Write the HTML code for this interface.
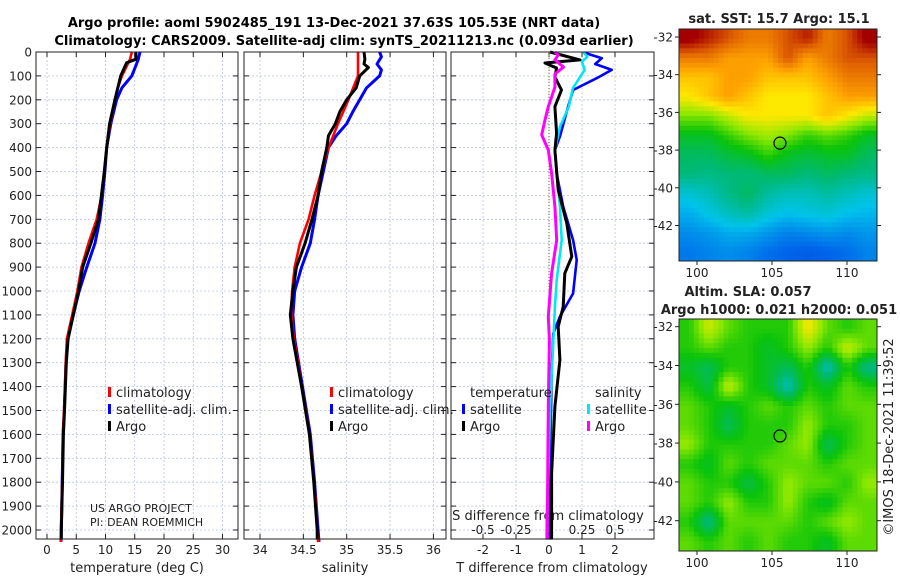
<!DOCTYPE html>
<html><head><meta charset="utf-8"><style>
body{margin:0;background:#fff;}
svg{display:block;font-family:"DejaVu Sans","Liberation Sans",sans-serif;}
</style></head><body>
<svg id="s" width="900" height="580" viewBox="0 0 900 580" xmlns="http://www.w3.org/2000/svg">
<text x="334" y="27" text-anchor="middle" font-size="13" font-weight="bold">Argo profile: aoml 5902485_191 13-Dec-2021 37.63S 105.53E (NRT data)</text>
<text x="344" y="45" text-anchor="middle" font-size="13" font-weight="bold">Climatology: CARS2009. Satellite-adj clim: synTS_20211213.nc (0.093d earlier)</text>
</svg>
<script>
// ---- profile data ----
const tDepth=[0,30,50,100,150,200,300,400,500,600,700,800,900,1000,1100,1200,1300,1400,1500,1600,1800,2000,2050];
const tClim=[14.5,14.2,13.8,12.8,12.1,11.6,10.8,10.2,9.8,9.35,8.5,7.1,5.9,5.2,4.3,3.4,3.2,3.1,2.9,2.7,2.6,2.4,2.4];
const tSat=[15.9,15.6,15.3,14.5,12.8,11.9,10.9,10.2,9.9,9.5,9.05,8.2,6.8,5.5,4.5,3.5,3.25,3.1,2.95,2.75,2.6,2.45,2.4];
const tArgoDepth=[0,30,45,100,200,300,400,500,700,800,900,1000,1100,1200,1300,1400,1500,1600,1800,2000,2040];
const tArgo=[15.2,15.2,13.6,12.6,11.6,10.7,10.2,9.8,8.8,7.5,6.1,5.4,4.5,3.6,3.3,3.15,3.0,2.8,2.65,2.45,2.45];

const sDepth=[0,100,200,300,400,500,600,700,800,900,1000,1100,1200,1300,1400,1500,1600,1700,1800,1900,2000,2050];
const sClim=[35.13,35.13,35.02,34.90,34.79,34.71,34.63,34.56,34.46,34.40,34.37,34.36,34.39,34.44,34.48,34.53,34.57,34.60,34.62,34.65,34.66,34.67];
const sSatDepth=[0,20,50,75,100,150,200,250,300,350,400,500,600,700,800,900,1000,1100,1200,1400,1600,1800,2000,2050];
const sSat=[35.38,35.40,35.35,35.40,35.38,35.23,35.15,35.07,35.0,34.88,34.79,34.73,34.67,34.63,34.58,34.48,34.40,34.38,34.40,34.49,34.58,34.63,34.67,34.68];
const sArgoDepth=[0,30,50,65,100,150,200,250,300,350,400,500,600,700,800,900,1000,1100,1200,1400,1600,1800,2000,2040];
const sArgo=[35.20,35.21,35.20,35.25,35.15,35.11,35.0,34.92,34.87,34.79,34.77,34.71,34.67,34.60,34.52,34.42,34.38,34.35,34.38,34.48,34.57,34.62,34.66,34.66];

const dTSatDepth=[4,26,50,75,109,159,229,354,410,507,647,787,870,1010,1107,1177,1345,1625,1970,2040];
const dTSat=[1.1,1.6,1.4,1.9,1.45,0.73,0.58,0.33,0.18,0.23,0.43,0.73,0.84,0.73,0.33,0.13,0.08,0.05,0.03,0.03];
const dTArgoDepth=[0,33,46,67,105,159,229,340,410,577,717,856,926,1066,1149,1289,1484,1763,1970,2040];
const dTArgo=[0.03,0.94,-0.12,0.23,0.18,0.38,0.18,0.23,0.18,0.28,0.54,0.69,0.48,0.43,0.28,0.33,0.18,0.08,0.08,0.08];
const dSSatDepth=[0,20,40,75,105,152,229,312,410,507,647,787,954,1066,1205,1484,1763,1970,2040];
const dSSat=[0.26,0.29,0.25,0.27,0.235,0.18,0.15,0.083,0.045,0.058,0.083,0.096,0.058,0.045,0.033,0.008,-0.005,-0.018,-0.02];
const dSArgoDepth=[0,12,33,63,92,147,229,284,347,410,507,647,787,926,1107,1205,1484,1970,2040];
const dSArgo=[0.045,0.07,0.045,0.11,0.045,0.045,-0.005,-0.03,-0.055,-0.005,0.02,0.045,0.058,0.02,-0.005,0.003,-0.005,-0.013,-0.013];

const depthTicks=[0,100,200,300,400,500,600,700,800,900,1000,1100,1200,1300,1400,1500,1600,1700,1800,1900,2000];
const tTicks=[0,5,10,15,20,25,30];
const sTicks=[34,34.5,35,35.5,36];
const sTickLabels=["34","34.5","35","35.5","36"];
const dTTicks=[-2,-1,0,1,2];
const dSTicks=[-0.5,-0.25,0,0.25,0.5];
const dSTickLabels=["-0.5","-0.25","0","0.25","0.5"];

// ---- map data ----
const sstLatTicks=[-32,-34,-36,-38,-40,-42];
const lonTicks=[100,105,110];
const sstGrid=[
[19,18.5,18,17.5,17.5,18,18.5,17.5,18,19],
[17.5,17.5,17,17,17,18,17,17.5,18,18],
[16.5,16.5,17,17,16.5,16.5,16.5,17,17.5,17.5],
[16,16.5,17,16.5,16,16,16,16.5,17,17],
[15,15,15.5,16,16,16,16,16.5,16,15.5],
[14,14,14.5,15,15.3,15,14.5,14.8,14.5,14],
[13.5,13.5,13.8,14,14.5,14,13.8,14,14,13.5],
[13.3,13.2,13.3,13.3,13.5,13.5,13.3,13.5,13.3,13.2],
[12.6,12.8,13.2,13.5,13,12.8,12.8,13,12.8,12.6],
[12.2,12.5,12.8,13,12.6,12.4,12.5,12.6,12.4,12.3],
[11.9,12,12.2,12.2,12,11.8,11.9,12,11.9,12],
[11.7,11.8,11.9,11.8,11.6,11.5,11.4,11.5,11.6,11.8]];
const slaGrid=[
[0,0.15,0.05,0,0,0,0.2,0.05,0,0.05],
[0,0.05,0,0,-0.05,0,0.1,0,0.15,0.05],
[-0.05,-0.1,0,0,-0.05,-0.1,0,-0.2,0,-0.15],
[0,-0.08,0.15,0,-0.05,-0.2,0,-0.05,0.05,0],
[0.05,0,-0.05,0,0.05,0,0.05,0,0.05,0.05],
[0.05,0,-0.1,0,0,0,0.1,0,0,0.05],
[0.1,0,0,0,0,0.05,0.1,-0.1,0,0.05],
[0,-0.05,0.05,0,0.05,0.05,0.05,0,0.05,0.05],
[0.05,0,0,-0.08,0,0.1,0.05,0.05,0,0.1],
[0.05,0,0.1,0,0,0.1,0,-0.05,0.05,0.05],
[0,-0.15,0.05,0.05,0.05,0.05,0,0.05,0.1,0.05],
[0.05,0,0.05,0,0.05,0,0,-0.05,0.05,0.05]];
const argoLon=105.53, argoLat=-37.63;

const S=document.getElementById('s');
const NS='http://www.w3.org/2000/svg';
function mk(tag,at,parent){const e=document.createElementNS(NS,tag);for(const k in at)e.setAttribute(k,at[k]);(parent||S).appendChild(e);return e;}
function txt(x,y,s,at,parent){const e=mk('text',Object.assign({x:x,y:y,'font-size':12,fill:'#222'},at||{}),parent);e.textContent=s;return e;}

const Y0=52,PY=0.239,YB=539;
const yD=d=>Y0+d*PY;
const panels=[
 {x0:36,x1:238,fx:v=>47+5.85*v,name:'temperature-panel'},
 {x0:244,x1:446,fx:v=>260+(v-34)*86.7,name:'salinity-panel'},
 {x0:451,x1:654,fx:v=>549+33*v,name:'difference-panel'}];
const fS=v=>549+132*v;

panels.forEach((p,i)=>{
  const g=mk('g',{});
  
  
  depthTicks.forEach(d=>{
    const l=mk('line',{x1:p.x0,x2:p.x1,y1:yD(d),y2:yD(d),stroke:'#b8c4e0','stroke-width':0.8,'stroke-dasharray':'2,2'},g);
    
    
    mk('line',{x1:p.x0,x2:p.x0+5,y1:yD(d),y2:yD(d),stroke:'#222'},g);
    mk('line',{x1:p.x1-5,x2:p.x1,y1:yD(d),y2:yD(d),stroke:'#222'},g);
  });
  const xt=i==0?tTicks:(i==1?sTicks:dTTicks);
  xt.forEach(v=>{
    const x=p.fx(v);
    const l=mk('line',{x1:x,x2:x,y1:Y0,y2:YB,stroke:'#b8c4e0','stroke-width':0.8,'stroke-dasharray':'2,2'},g);
    
    
    mk('line',{x1:x,x2:x,y1:YB,y2:YB-5,stroke:'#222'},g);
    mk('line',{x1:x,x2:x,y1:Y0,y2:Y0+5,stroke:'#222'},g);
  });
});
depthTicks.forEach(d=>{const t=txt(32,yD(d)+4.5,String(d),{'text-anchor':'end'});
 });
tTicks.forEach(v=>{const t=txt(panels[0].fx(v),YB+15,String(v),{'text-anchor':'middle'});
 });
sTicks.forEach((v,i)=>{const t=txt(panels[1].fx(v),YB+15,sTickLabels[i],{'text-anchor':'middle'});
 });
dTTicks.forEach(v=>{const t=txt(panels[2].fx(v),YB+15,String(v),{'text-anchor':'middle'});
 });
dSTicks.forEach((v,i)=>{const t=txt(fS(v),534,dSTickLabels[i],{'text-anchor':'middle'});
 });
let t;
t=txt(137,572,'temperature (deg C)',{'text-anchor':'middle','font-size':13});
t=txt(345,572,'salinity',{'text-anchor':'middle','font-size':13});
t=txt(552,572,'T difference from climatology',{'text-anchor':'middle','font-size':13});
t=txt(548,520,'S difference from climatology',{'text-anchor':'middle','font-size':13});
t=txt(90,512,'US ARGO PROJECT',{'font-size':11});
t=txt(90,526,'PI: DEAN ROEMMICH',{'font-size':11});

mk('line',{x1:549,x2:549,y1:Y0,y2:YB,stroke:'#6b6b2a','stroke-width':1,'stroke-dasharray':'1,2'});

function series(fx,xs,ds,col,name,w){
  const pts=xs.map((v,i)=>fx(v).toFixed(1)+','+yD(ds[i]).toFixed(1)).join(' ');
  const e=mk('polyline',{points:pts,fill:'none',stroke:col,'stroke-width':w||2.6,'stroke-linejoin':'round'});
  
  
}
series(panels[0].fx,tSat,tDepth,'#0000ff','temperature-satellite-line',3);
series(panels[0].fx,tClim,tDepth,'#ff0000','temperature-climatology-line');
series(panels[0].fx,tArgo,tArgoDepth,'#000','temperature-argo-line',3);
series(panels[1].fx,sSat,sSatDepth,'#0000ff','salinity-satellite-line',3);
series(panels[1].fx,sClim,sDepth,'#ff0000','salinity-climatology-line');
series(panels[1].fx,sArgo,sArgoDepth,'#000','salinity-argo-line',3);
series(panels[2].fx,dTSat,dTSatDepth,'#0000ff','t-diff-satellite-line');
series(fS,dSSat,dSSatDepth,'#00e8f0','s-diff-satellite-line');
series(panels[2].fx,dTArgo,dTArgoDepth,'#000','t-diff-argo-line',3);
series(fS,dSArgo,dSArgoDepth,'#ff00ff','s-diff-argo-line',3);

panels.forEach(p=>{mk('rect',{x:p.x0,y:Y0,width:p.x1-p.x0,height:YB-Y0,fill:'none',stroke:'#222','stroke-width':1});});

function leg(x,y,col,label,name){
  mk('rect',{x:x,y:y-10,width:3,height:10,fill:col});
  const e=txt(x+8,y,label,{'font-size':13});
  
  
}
leg(108,397,'#ff0000','climatology','legend-climatology');
leg(108,414,'#0000ff','satellite-adj. clim.','legend-satellite');
leg(108,431,'#000','Argo','legend-argo');
leg(330,397,'#ff0000','climatology','legend-climatology-2');
leg(330,414,'#0000ff','satellite-adj. clim.','legend-satellite-2');
leg(330,431,'#000','Argo','legend-argo-2');
t=txt(470,397,'temperature',{'font-size':13});
leg(462,414,'#0000ff','satellite','legend-t-satellite');
leg(462,431,'#000','Argo','legend-t-argo');
t=txt(595,397,'salinity',{'font-size':13});
leg(587,414,'#00e8f0','satellite','legend-s-satellite');
leg(587,431,'#ff00ff','Argo','legend-s-argo');

// ---- maps ----
const stops=[[0,[0,40,175]],[0.11,[0,100,235]],[0.22,[0,195,235]],[0.33,[0,185,120]],[0.44,[10,195,10]],[0.55,[140,232,0]],[0.66,[255,232,0]],[0.77,[255,165,0]],[0.88,[225,100,0]],[1,[165,0,0]]];
function cmap(t){t=Math.max(0,Math.min(1,t));for(let i=1;i<stops.length;i++){if(t<=stops[i][0]){const a=stops[i-1],b=stops[i],f=(t-a[0])/(b[0]-a[0]);return 'rgb('+[0,1,2].map(k=>Math.round(a[1][k]+f*(b[1][k]-a[1][k]))).join(',')+')';}}return 'rgb(165,0,0)';}
function sample(grid,r,c){ // bilinear over cell centres
  const rows=grid.length,cols=grid[0].length;
  r=Math.max(0,Math.min(rows-1,r));c=Math.max(0,Math.min(cols-1,c));
  const r0=Math.floor(r),c0=Math.floor(c),r1=Math.min(rows-1,r0+1),c1=Math.min(cols-1,c0+1),fr=r-r0,fc=c-c0;
  return grid[r0][c0]*(1-fr)*(1-fc)+grid[r0][c1]*(1-fr)*fc+grid[r1][c0]*fr*(1-fc)+grid[r1][c1]*fr*fc;
}
function drawMap(y0,y1,grid,tf,name,latY0,latStep){
  const x0=679,x1=877,lonA=98.8,lonB=112,SUB=4;
  const g=mk('g',{});
  
  
  const rows=grid.length,cols=grid[0].length,nr=rows*SUB,nc=cols*SUB,cw=(x1-x0)/nc,ch=(y1-y0)/nr;
  for(let i=0;i<nr;i++)for(let j=0;j<nc;j++){
    const v=sample(grid,(i+0.5)/SUB-0.5,(j+0.5)/SUB-0.5);
    const c=mk('rect',{x:(x0+j*cw).toFixed(2),y:(y0+i*ch).toFixed(2),width:(cw+0.4).toFixed(2),height:(ch+0.4).toFixed(2),fill:cmap(tf(v))},g);
    
    
  }
  mk('rect',{x:x0,y:y0,width:x1-x0,height:y1-y0,fill:'none',stroke:'#222'},g);
  const fx=lon=>x0+(lon-lonA)/(lonB-lonA)*(x1-x0);
  const fy=lat=>latY0+(-32-lat)/2*latStep;
  sstLatTicks.forEach(la=>{mk('line',{x1:x0-4,x2:x0,y1:fy(la),y2:fy(la),stroke:'#222'},g);mk('line',{x1:x1,x2:x1+4,y1:fy(la),y2:fy(la),stroke:'#222'},g);
    const e=txt(x0-6,fy(la)+4.5,String(la),{'text-anchor':'end'},g);});
  lonTicks.forEach(lo=>{mk('line',{x1:fx(lo),x2:fx(lo),y1:y1,y2:y1+4,stroke:'#222'},g);
    const e=txt(fx(lo),y1+16,String(lo),{'text-anchor':'middle'},g);});
  const c=mk('circle',{cx:fx(argoLon),cy:fy(argoLat),r:6,fill:'none',stroke:'#000','stroke-width':1.2},g);
  
  
}
drawMap(29,261,sstGrid,v=>(v-10.6)/(18.8-10.6),'sst-map',37,37.7);
drawMap(319,551,slaGrid,v=>0.46+v,'sla-map',326.7,38.8);
t=txt(779,23,'sat. SST: 15.7 Argo: 15.1',{'text-anchor':'middle','font-size':13,'font-weight':'bold'});
t=txt(748,296,'Altim. SLA: 0.057',{'text-anchor':'middle','font-size':13,'font-weight':'bold'});
t=txt(779,314,'Argo h1000: 0.021 h2000: 0.051',{'text-anchor':'middle','font-size':13,'font-weight':'bold'});
t=txt(0,0,'©IMOS 18-Dec-2021 11:39:52',{'text-anchor':'middle','font-size':13,transform:'translate(893,437) rotate(-90)'});
</script>
</body></html>
